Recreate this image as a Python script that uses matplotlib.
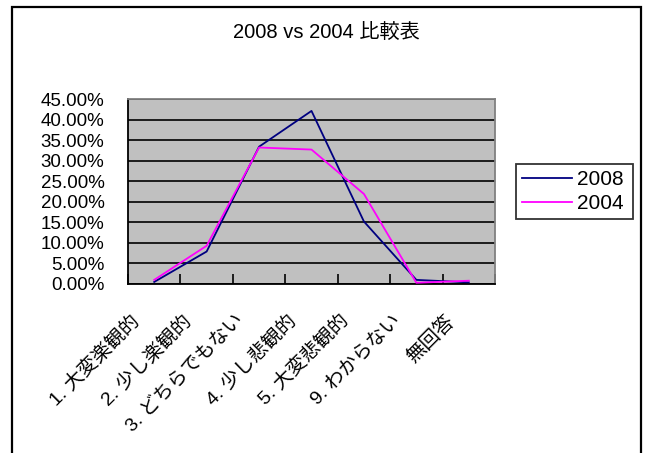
import matplotlib
matplotlib.use("Agg")
import matplotlib.pyplot as plt
import matplotlib.transforms as mtransforms
from matplotlib.patches import Rectangle
from matplotlib.ticker import FuncFormatter, MultipleLocator

plt.rcParams['font.family'] = ['Liberation Sans', 'Noto Sans CJK JP']

title = "2008 vs 2004 比較表"
categories = ["1. 大変楽観的", "2. 少し楽観的", "3. どちらでもない", "4. 少し悲観的",
              "5. 大変悲観的", "9. わからない", "無回答"]
series_names = ["2008", "2004"]
values_2008 = [0.005, 0.079, 0.334, 0.421, 0.152, 0.010, 0.004]
values_2004 = [0.010, 0.093, 0.332, 0.327, 0.219, 0.003, 0.008]

fig = plt.figure(figsize=(6.47, 4.53), dpi=100)
W, H = 647, 453

# outer chart frame
fig.patches.append(Rectangle((12 / W, -0.05), (641 - 12) / W, 1.05 - 7 / H,
                             transform=fig.transFigure, fill=False,
                             edgecolor='black', linewidth=1.6, zorder=0))

ax = fig.add_axes([128 / W, 1 - 284 / H, (495 - 128) / W, (284 - 99) / H])
ax.set_facecolor('#C0C0C0')

x = [i + 0.5 for i in range(len(categories))]
ax.plot(x, values_2008, color='#000080', linewidth=1.3, label=series_names[0], zorder=3)
ax.plot(x, values_2004, color='#FF00FF', linewidth=1.3, label=series_names[1], zorder=3)

ax.set_xlim(0, len(categories))
ax.set_ylim(0, 0.45)
ax.yaxis.set_major_locator(MultipleLocator(0.05))
ax.yaxis.set_major_formatter(FuncFormatter(lambda v, p: f"{v * 100:.2f}%"))
ax.grid(axis='y', color='black', linewidth=1.2)
ax.set_axisbelow(True)

ax.set_xticks(range(len(categories) + 1))
ax.set_xticklabels([])
ax.tick_params(axis='x', direction='in', length=7, width=1.2, color='black')
ax.tick_params(axis='y', length=0, pad=17, labelsize=13.5)

for side in ('left', 'bottom'):
    ax.spines[side].set_color('black')
    ax.spines[side].set_linewidth(1.3)
for side in ('top', 'right'):
    ax.spines[side].set_color('#808080')
    ax.spines[side].set_linewidth(1.3)

# rotated category labels
trans = mtransforms.offset_copy(ax.get_xaxis_transform(), fig=fig,
                                x=-24, y=-28, units='dots')
for xi, name in zip(x, categories):
    ax.text(xi, 0, name, transform=trans, rotation=45, rotation_mode='anchor',
            ha='right', va='top', fontsize=14)

fig.text(326 / W, 1 - 33 / H, title, ha='center', va='center', fontsize=14.5)

leg = ax.legend(loc='center left', bbox_to_anchor=(516 / W, 1 - 224 / H, (633 - 516) / W, (224 - 159) / H),
                bbox_transform=fig.transFigure, mode='expand', fontsize=15,
                frameon=True, fancybox=False, handlelength=2.4, handletextpad=0.25,
                borderpad=0.3, labelspacing=0.25, borderaxespad=0)
leg.get_frame().set_edgecolor('black')
leg.get_frame().set_linewidth(1.3)

fig.savefig("out.png", dpi=100)
